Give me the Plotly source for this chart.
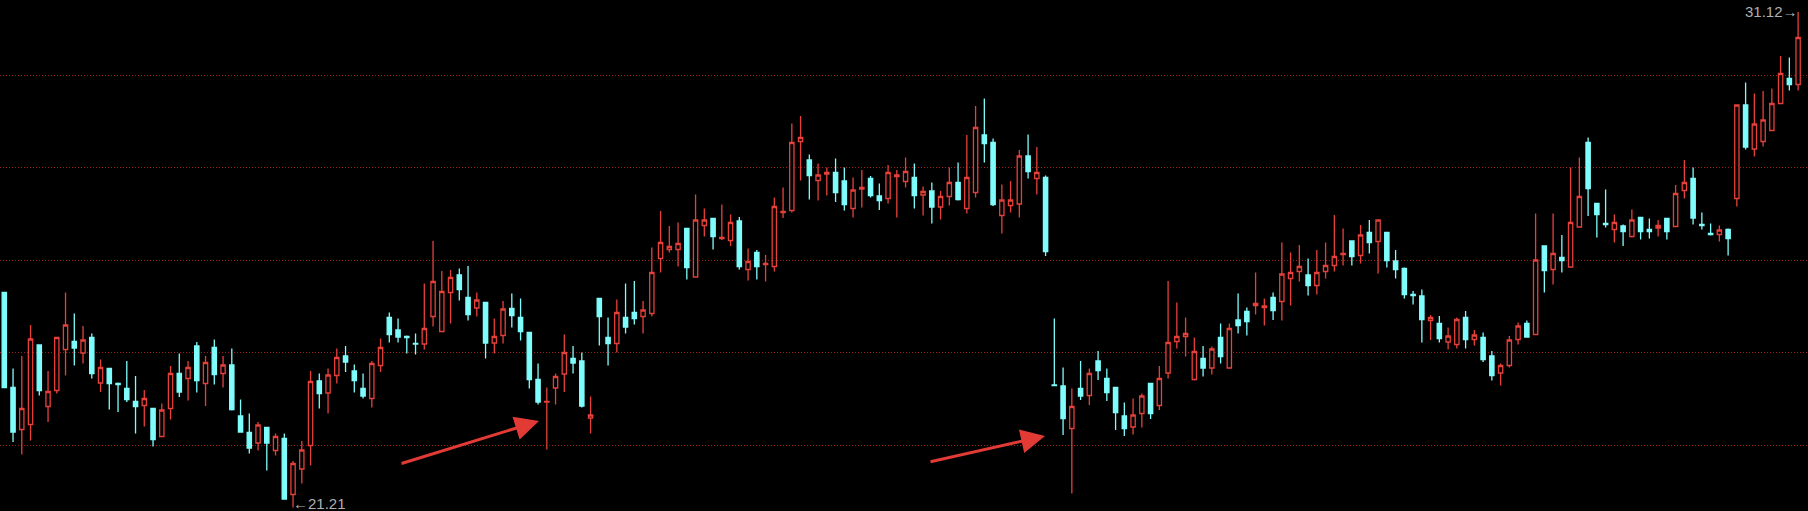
import plotly.graph_objects as go

# OHLC values (one candle per trading day)
opens = [25.51, 23.61, 22.77, 22.87, 24.46, 23.23, 23.55, 24.37, 24.53, 24.30,
         24.61, 23.70, 23.99, 23.69, 23.59, 23.33, 23.25, 23.19, 22.63, 23.19,
         23.89, 23.79, 24.44, 23.69, 24.41, 23.89, 24.06, 23.04, 22.71, 22.50,
         22.81, 22.35, 22.59, 21.47, 21.98, 22.45, 23.74, 23.50, 23.85, 24.24,
         23.94, 23.59, 23.39, 24.05, 25.01, 24.76, 24.63, 24.49, 24.48, 25.03,
         24.73, 25.51, 25.86, 25.41, 25.20, 25.31, 24.50, 24.65, 25.19, 25.01,
         24.71, 23.77, 23.32, 23.60, 23.88, 24.19, 24.14, 23.00, 25.39, 24.61,
         24.49, 25.01, 25.11, 25.03, 25.09, 26.19, 26.37, 26.37, 26.79, 25.82,
         26.85, 26.99, 26.59, 26.55, 26.94, 25.97, 26.31, 26.07, 26.03, 27.11,
         27.15, 28.53, 28.16, 27.75, 27.88, 27.91, 27.74, 27.19, 27.58, 27.79,
         27.44, 27.39, 27.83, 27.73, 27.81, 27.46, 27.54, 27.22, 27.43, 27.71,
         27.19, 27.51, 28.66, 28.51, 27.05, 27.25, 27.28, 28.24, 27.79, 27.81,
         23.66, 23.64, 22.79, 23.59, 23.45, 24.14, 23.79, 23.61, 23.04, 22.82,
         23.09, 23.69, 23.25, 23.90, 24.53, 24.63, 23.77, 24.19, 24.00, 24.61,
         24.00, 24.96, 25.13, 25.25, 25.21, 25.41, 25.33, 25.79, 25.93, 25.86,
         25.65, 25.93, 26.05, 26.27, 26.54, 26.25, 26.71, 26.53, 26.71, 26.14,
         25.99, 25.47, 25.44, 24.95, 24.89, 24.52, 24.47, 25.01, 24.57, 24.61,
         24.24, 23.90, 24.05, 24.57, 24.89, 24.67, 26.44, 25.97, 26.21, 26.02,
         26.82, 28.51, 27.29, 26.89, 26.77, 26.84, 26.63, 27.01, 26.77, 26.80,
         26.99, 26.83, 27.55, 27.79, 26.87, 26.69, 26.67, 26.77, 27.39, 29.26,
         28.38, 28.53, 28.75, 29.29, 29.79, 29.67]
highs = [25.51, 23.99, 24.24, 24.86, 24.46, 23.94, 24.61, 25.51, 25.09, 24.84,
         24.69, 24.17, 23.99, 23.71, 24.14, 23.84, 23.56, 23.19, 23.29, 24.04,
         24.29, 24.14, 24.52, 24.24, 24.57, 24.24, 24.39, 23.37, 23.09, 22.92,
         22.81, 22.69, 22.69, 22.14, 22.54, 23.94, 23.89, 23.99, 24.39, 24.44,
         24.07, 23.89, 24.14, 24.59, 25.11, 24.99, 24.65, 24.69, 25.69, 26.54,
         25.94, 25.96, 25.99, 26.04, 25.51, 25.31, 24.99, 25.34, 25.49, 25.39,
         24.71, 24.09, 23.61, 23.89, 24.67, 24.44, 24.31, 23.43, 25.39, 25.01,
         25.37, 25.69, 25.74, 25.34, 26.41, 27.14, 26.84, 26.91, 26.79, 27.47,
         27.19, 26.99, 27.27, 27.07, 27.02, 26.39, 26.36, 26.26, 27.41, 27.61,
         28.89, 29.04, 28.27, 28.09, 28.01, 28.19, 28.01, 27.81, 27.96, 27.84,
         27.69, 28.06, 27.96, 28.21, 28.09, 27.63, 27.71, 27.54, 28.01, 28.11,
         28.66, 29.24, 29.39, 28.59, 27.67, 27.74, 28.36, 28.67, 28.42, 27.85,
         24.99, 24.01, 23.59, 24.14, 23.99, 24.34, 23.99, 23.61, 23.31, 23.39,
         23.49, 23.69, 24.04, 25.74, 25.31, 25.01, 24.61, 24.44, 24.43, 24.89,
         24.89, 25.49, 25.21, 25.91, 25.39, 25.51, 26.51, 26.31, 26.46, 26.19,
         26.36, 26.51, 27.06, 26.79, 26.54, 26.86, 26.96, 26.96, 26.71, 26.36,
         26.01, 25.54, 25.57, 25.06, 25.04, 24.81, 25.01, 25.14, 24.76, 24.71,
         24.34, 24.09, 24.64, 24.91, 24.95, 27.09, 26.44, 27.09, 26.66, 28.01,
         28.21, 28.61, 27.29, 27.57, 27.07, 26.87, 27.17, 27.01, 26.99, 26.96,
         26.99, 27.66, 28.16, 28.01, 27.11, 26.89, 26.85, 26.79, 29.26, 29.71,
         29.49, 29.54, 29.59, 30.24, 30.21, 31.12]
lows = [23.61, 22.52, 22.27, 22.55, 23.45, 22.92, 23.49, 23.85, 24.05, 24.09,
        23.79, 23.52, 23.17, 23.12, 23.32, 22.69, 22.83, 22.43, 22.63, 22.97,
        23.42, 23.35, 23.51, 23.24, 23.67, 23.61, 23.15, 22.72, 22.29, 22.35,
        21.95, 22.25, 21.38, 21.21, 21.69, 22.05, 23.19, 23.09, 23.69, 23.92,
        23.51, 23.39, 23.21, 23.92, 24.51, 24.51, 24.29, 24.27, 24.37, 24.83,
        24.73, 24.89, 25.35, 24.95, 25.03, 24.19, 24.29, 24.49, 24.81, 24.55,
        23.59, 23.27, 22.37, 23.27, 23.52, 23.89, 23.21, 22.69, 24.45, 24.05,
        24.31, 24.69, 24.87, 24.69, 25.03, 25.91, 26.31, 26.03, 25.77, 25.82,
        26.63, 26.37, 26.56, 26.44, 25.97, 25.75, 25.77, 25.73, 25.93, 27.00,
        27.11, 27.75, 27.37, 27.35, 27.45, 27.32, 27.15, 27.01, 27.21, 27.41,
        27.16, 27.29, 27.01, 27.61, 27.19, 27.05, 26.89, 26.97, 27.25, 27.35,
        27.09, 27.41, 28.11, 27.24, 26.69, 27.11, 27.01, 27.79, 27.47, 26.24,
        23.65, 22.66, 21.49, 23.36, 23.26, 23.76, 23.34, 22.76, 22.64, 22.67,
        22.81, 22.98, 23.16, 23.79, 24.39, 24.23, 23.75, 23.83, 23.87, 24.09,
        24.00, 24.69, 24.65, 25.07, 24.85, 24.96, 24.95, 25.25, 25.73, 25.45,
        25.47, 25.79, 25.93, 26.05, 26.05, 26.09, 26.29, 25.89, 26.01, 25.79,
        25.39, 25.27, 24.51, 24.56, 24.51, 24.37, 24.39, 24.39, 24.45, 24.12,
        23.75, 23.65, 24.01, 24.47, 24.62, 24.67, 25.51, 25.67, 25.91, 26.02,
        26.82, 27.04, 26.61, 26.81, 26.51, 26.44, 26.61, 26.57, 26.59, 26.63,
        26.57, 26.83, 27.39, 26.87, 26.77, 26.65, 26.53, 26.25, 27.23, 28.37,
        28.23, 28.43, 28.75, 29.29, 29.55, 29.55]
closes = [23.61, 22.72, 23.19, 24.58, 23.55, 23.53, 24.61, 24.86, 24.40, 24.56,
          23.89, 24.01, 23.69, 23.67, 23.37, 23.23, 23.39, 22.57, 23.16, 23.89,
          23.52, 24.01, 23.75, 24.11, 23.87, 24.06, 23.17, 22.72, 22.40, 22.86,
          22.50, 22.63, 21.38, 22.09, 22.36, 23.73, 23.49, 23.86, 24.21, 24.12,
          23.75, 23.44, 24.09, 24.41, 24.67, 24.62, 24.61, 24.48, 24.79, 25.73,
          25.53, 25.81, 25.57, 25.07, 25.36, 24.50, 24.63, 25.18, 25.05, 24.73,
          23.77, 23.32, 23.33, 23.83, 24.31, 24.10, 23.24, 23.06, 25.03, 24.49,
          25.11, 24.82, 24.99, 25.16, 25.91, 26.51, 26.43, 26.49, 26.01, 26.96,
          26.96, 26.63, 26.61, 26.91, 26.03, 26.13, 26.03, 26.09, 27.23, 27.13,
          28.51, 28.61, 27.85, 27.86, 27.91, 27.51, 27.27, 27.56, 27.61, 27.45,
          27.35, 27.91, 27.86, 27.93, 27.45, 27.53, 27.22, 27.43, 27.71, 27.37,
          27.81, 28.81, 28.49, 27.27, 27.36, 27.36, 28.24, 27.93, 27.91, 26.33,
          23.65, 22.99, 23.23, 23.44, 23.89, 23.95, 23.51, 23.11, 22.79, 23.06,
          23.44, 23.09, 23.79, 24.51, 24.63, 24.69, 24.33, 24.00, 24.38, 24.23,
          24.79, 24.85, 24.93, 25.29, 25.24, 25.15, 25.88, 25.91, 26.03, 25.65,
          25.91, 26.05, 26.23, 26.29, 26.23, 26.66, 26.51, 26.96, 26.15, 25.97,
          25.47, 25.45, 24.97, 25.01, 24.59, 24.64, 24.97, 24.57, 24.66, 24.17,
          23.85, 24.05, 24.56, 24.84, 24.62, 26.16, 25.95, 26.29, 26.15, 26.91,
          27.43, 27.59, 27.07, 26.87, 26.91, 26.73, 26.96, 26.73, 26.73, 26.85,
          26.73, 27.49, 27.71, 27.00, 26.85, 26.67, 26.76, 26.59, 29.26, 28.42,
          28.88, 28.96, 29.29, 29.89, 29.67, 30.61]

# horizontal reference (grid) levels
grid_levels = [22.46, 24.31, 26.15, 28.01, 29.85]
high_label = "31.12"
low_label = "21.21"

x = list(range(len(opens)))

UP = "#e5403a"
DOWN = "#7ffcfc"
GRID = "#9a1c1c"
LABEL = "#b0b0b0"
ARROW = "#e23b35"

fig = go.Figure(go.Candlestick(
    x=x, open=opens, high=highs, low=lows, close=closes,
    increasing=dict(line=dict(color=UP, width=1.3), fillcolor="#000000"),
    decreasing=dict(line=dict(color=DOWN, width=1.3), fillcolor=DOWN),
    whiskerwidth=0,
    hoverinfo="skip",
))

hi_idx = highs.index(max(highs))
lo_idx = lows.index(min(lows))

annotations = [
    dict(x=hi_idx, y=max(highs), xref="x", yref="y", text=high_label + "\u2192",
         showarrow=False, xanchor="right", yanchor="middle", xshift=2, yshift=1,
         font=dict(family="Liberation Sans, Arial, sans-serif", size=15, color=LABEL)),
    dict(x=lo_idx, y=min(lows), xref="x", yref="y", text="\u2190" + low_label,
         showarrow=False, xanchor="left", yanchor="middle", xshift=-2, yshift=4,
         font=dict(family="Liberation Sans, Arial, sans-serif", size=15, color=LABEL)),
    dict(x=539 / 1808, y=1 - 421 / 511, xref="paper", yref="paper", text="",
         showarrow=True, ax=-139, ay=43, arrowhead=2, arrowsize=1.6,
         arrowwidth=3, arrowcolor=ARROW, standoff=0),
    dict(x=1045 / 1808, y=1 - 436 / 511, xref="paper", yref="paper", text="",
         showarrow=True, ax=-116, ay=26, arrowhead=2, arrowsize=1.6,
         arrowwidth=3, arrowcolor=ARROW, standoff=0),
]

fig.update_layout(
    width=1808, height=511,
    margin=dict(l=0, r=0, t=0, b=0, pad=0),
    paper_bgcolor="#000000", plot_bgcolor="#000000",
    showlegend=False,
    annotations=annotations,
    xaxis=dict(range=[-0.49, 206.13], visible=False, rangeslider=dict(visible=False),
               showgrid=False, zeroline=False, fixedrange=True),
    yaxis=dict(range=[21.14, 31.36], tickvals=grid_levels, showticklabels=False,
               showgrid=True, gridcolor=GRID, gridwidth=1, griddash="1px,2px",
               zeroline=False, showline=False, ticks="", fixedrange=True),
)

fig.write_html("out.html", config={"displayModeBar": False},
               post_script="document.body.style.margin='0';document.body.style.overflow='hidden';")
